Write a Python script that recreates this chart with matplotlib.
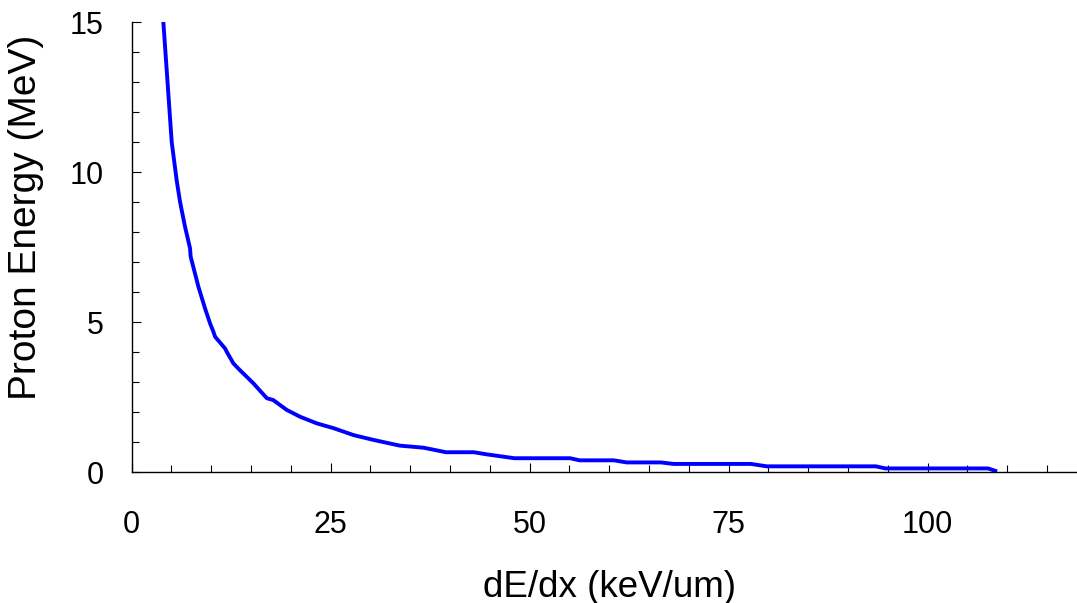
import matplotlib
matplotlib.use("Agg")
import matplotlib.pyplot as plt
from matplotlib.ticker import MultipleLocator

plt.rcParams["font.family"] = ["Liberation Sans", "DejaVu Sans"]

# stopping power (keV/um) vs proton energy (MeV)
dedx = [4.0, 5.05, 5.67, 6.1, 6.72, 7.35, 7.43, 8.4, 9.23, 9.86, 10.28, 10.5,
        11.75, 11.96, 12.8, 13.6, 15.3, 17.0, 17.8, 19.5, 21.2, 23.3, 25.4,
        27.9, 30.4, 33.7, 36.7, 39.5, 43.0, 44.6, 48.1, 55.1, 56.3, 60.6,
        62.2, 66.5, 68.1, 77.8, 79.8, 93.5, 94.7, 107.6, 108.5]
energy = [15.0, 11.0, 9.73, 9.0, 8.18, 7.46, 7.18, 6.18, 5.46, 4.96, 4.68, 4.51,
          4.12, 4.01, 3.62, 3.4, 2.96, 2.46, 2.4, 2.07, 1.84, 1.62, 1.46,
          1.23, 1.07, 0.88, 0.81, 0.66, 0.66, 0.59, 0.46, 0.46, 0.39, 0.39,
          0.32, 0.32, 0.27, 0.27, 0.19, 0.19, 0.12, 0.12, 0.04]

fig = plt.figure(figsize=(10.77, 6.03), dpi=100)
ax = fig.add_axes([0.1221, 0.2172, 0.887, 0.7463])

ax.plot(dedx, energy, color="#0000ff", lw=2.8, solid_joinstyle="round")

ax.set_xlim(0, 120)
ax.set_ylim(0, 15)
ax.xaxis.set_major_locator(MultipleLocator(25))
ax.xaxis.set_minor_locator(MultipleLocator(5))
ax.yaxis.set_major_locator(MultipleLocator(5))
ax.yaxis.set_minor_locator(MultipleLocator(1))

for side in ("top", "right"):
    ax.spines[side].set_visible(False)
for side in ("left", "bottom"):
    ax.spines[side].set_linewidth(1.0)

ax.tick_params(which="major", direction="in", length=6.5, width=0.8,
               labelsize=22)
ax.tick_params(which="minor", direction="in", length=5, width=0.8)
ax.tick_params(axis="x", which="major", pad=27)
ax.tick_params(axis="y", which="major", pad=20)

ax.set_xlabel("dE/dx (keV/um)", fontsize=26.5, va="center")
ax.xaxis.set_label_coords(0.5, -0.2556)
ax.set_ylabel("Proton Energy (MeV)", fontsize=28, va="center")
ax.yaxis.set_label_coords(-0.11, 0.565)

fig.savefig("out.png", dpi=100)
